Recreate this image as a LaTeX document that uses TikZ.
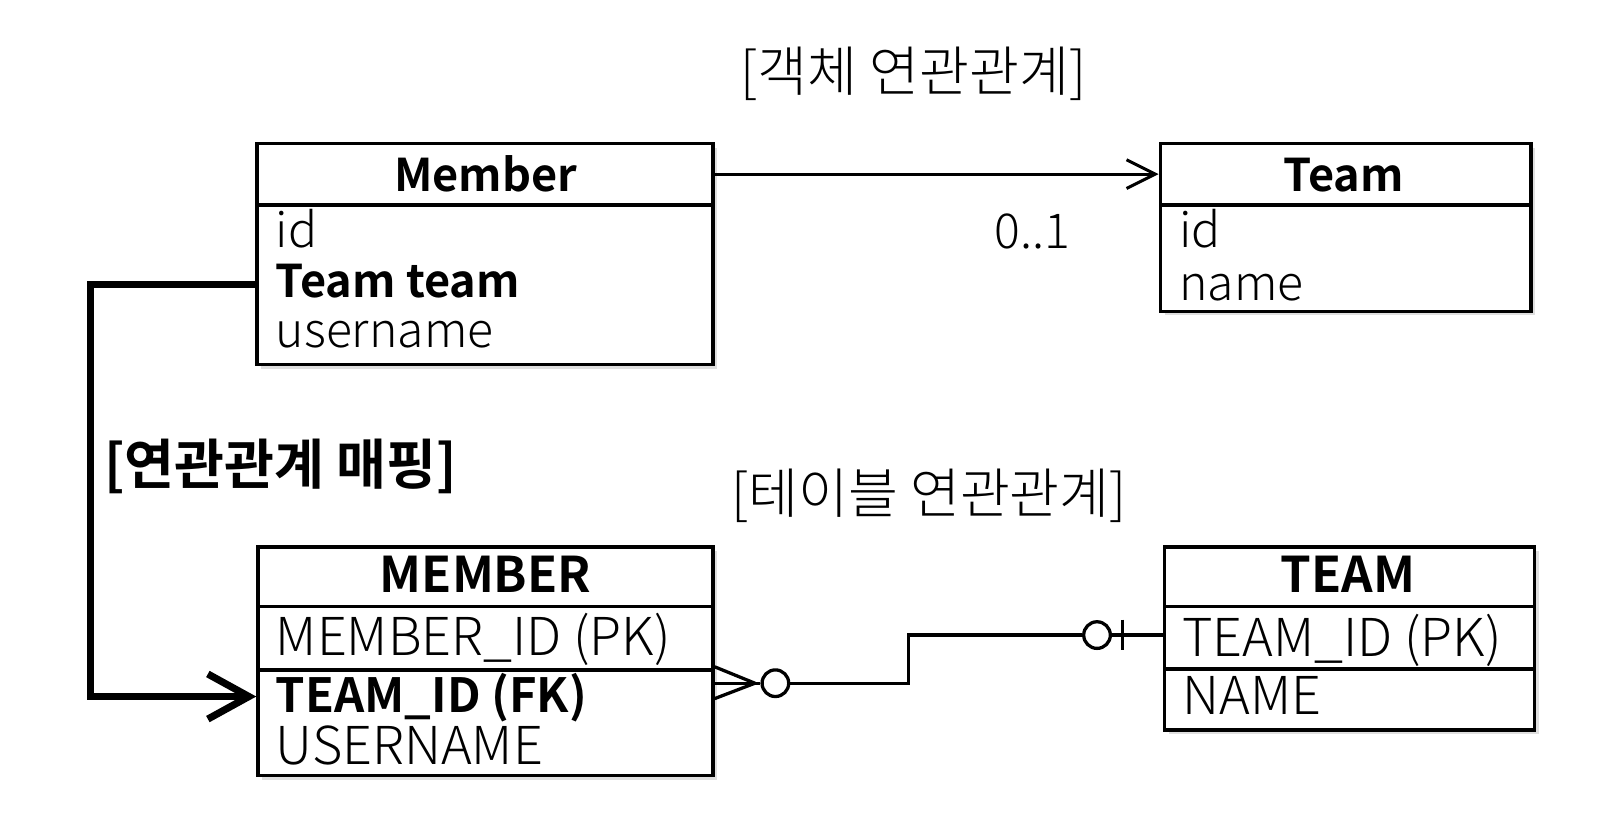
\documentclass[tikz,border=0pt]{standalone}
\usepackage{fontspec}
\setmainfont{Noto Sans CJK KR}[BoldFont={Noto Sans CJK KR Bold}]
\IfFontExistsTF{Noto Sans CJK KR Light}{\newfontfamily\lightf{Noto Sans CJK KR Light}}{\newfontfamily\lightf{Noto Sans CJK KR}}
\usetikzlibrary{arrows.meta,shadows,fit,calc}
\begin{document}
\begin{tikzpicture}[x=0.5pt,y=-0.5pt,
  box/.style={draw, line width=1.8pt, fill=white, inner sep=0pt,
    drop shadow={shadow xshift=2pt, shadow yshift=-2pt, opacity=0.25}},
  rowline/.style={line width=1.8pt},
  ctitle/.style={font=\fontsize{22pt}{26pt}\selectfont\bfseries, anchor=base, inner sep=0pt},
  cattr/.style={font=\fontsize{23.5pt}{26pt}\selectfont\lightf, anchor=base west, inner sep=0pt},
  ttitle/.style={font=\fontsize{24pt}{28pt}\selectfont\bfseries, anchor=base, inner sep=0pt},
  tattr/.style={font=\fontsize{25.5pt}{28pt}\selectfont\lightf, anchor=base west, inner sep=0pt},
  heading/.style={font=\fontsize{26.5pt}{30pt}\selectfont\lightf, inner sep=0pt},
  assoc/.style={line width=1.5pt, -{Straight Barb[length=14pt,width=14pt,line width=1.5pt]}},
  mapping/.style={line width=3.5pt, -{Straight Barb[length=20pt,width=22pt,line width=3.5pt]}},
  er/.style={line width=1.6pt},
  ercirc/.style={circle, draw, line width=1.6pt, minimum size=13pt, inner sep=0pt, fill=white}
]
\useasboundingbox (0,0) rectangle (1564,814);

% headings
\node[heading] (h1) at (892,72) {[객체 연관관계]};
\node[heading, font=\fontsize{26.5pt}{30pt}\selectfont\bfseries] (h3) at (274,455) {[연관관계 매핑]};
\node[heading] (h2) at (907,484) {[테이블 연관관계]};

% Member class
\node[box, fit={(251,140) (696,356)}] (member) {};
\draw[rowline] (251,200) -- (696,200);
\node[ctitle] (mtitle) at (474,187) {Member};
\node[cattr] (mid) at (269,242) {id};
\node[cattr, font=\fontsize{22pt}{26pt}\selectfont\bfseries] (mteam) at (269,290) {Team team};
\node[cattr] (muser) at (269,339) {username};

% Team class
\node[box, fit={(1133,140) (1495,304)}] (team) {};
\draw[rowline] (1133,200) -- (1495,200);
\node[ctitle] (ttitle) at (1312,187) {Team};
\node[cattr] (tid) at (1151,242) {id};
\node[cattr] (tname) at (1151,293) {name};

% MEMBER table
\node[box, fit={(252,534) (696,757)}] (MEMBER) {};
\draw[rowline] (252,592) -- (696,592);
\draw[rowline] (252,654) -- (696,654);
\node[ttitle] (Mtitle) at (474,578) {MEMBER};
\node[tattr] (Mid) at (269,640) {MEMBER\_ID (PK)};
\node[tattr, font=\fontsize{23pt}{28pt}\selectfont\bfseries] (Mfk) at (269,696) {TEAM\_ID (FK)};
\node[tattr] (Muser) at (269,746) {USERNAME};

% TEAM table
\node[box, fit={(1137,534) (1498,713)}] (TEAM) {};
\draw[rowline] (1137,592) -- (1498,592);
\draw[rowline] (1137,653) -- (1498,653);
\node[ttitle] (Ttitle) at (1316,578) {TEAM};
\node[tattr] (Tid) at (1154,641) {TEAM\_ID (PK)};
\node[tattr] (Tname) at (1154,698) {NAME};

% object association
\draw[assoc] (member.east |- 0,170) -- (team.west |- 0,170);
\node[cattr, anchor=base] (mult) at (1008,243) {0..1};

% mapping arrow
\coordinate (mapcorner) at (88,278);
\draw[mapping, line join=miter] (member.west |- 0,278) -- (mapcorner) -- (88,680) -- (MEMBER.west |- 0,680);

% ER relationship
\node[ercirc] (c1) at (757,667) {};
\node[ercirc] (c2) at (1071,620) {};
\coordinate (cftip) at (737,667);
\draw[er] (MEMBER.east |- 0,651) -- (cftip);
\draw[er] (MEMBER.east |- 0,667) -- (c1.west);
\draw[er] (MEMBER.east |- 0,682) -- (cftip);
\draw[er] (c1.east) -- (887,667) -- (887,620) -- (c2.west);
\draw[er] (c2.east) -- (TEAM.west |- 0,620);
\coordinate (bar) at (1096,620);
\draw[er] ($(bar)+(0,-15)$) -- ($(bar)+(0,15)$);
\end{tikzpicture}
\end{document}
